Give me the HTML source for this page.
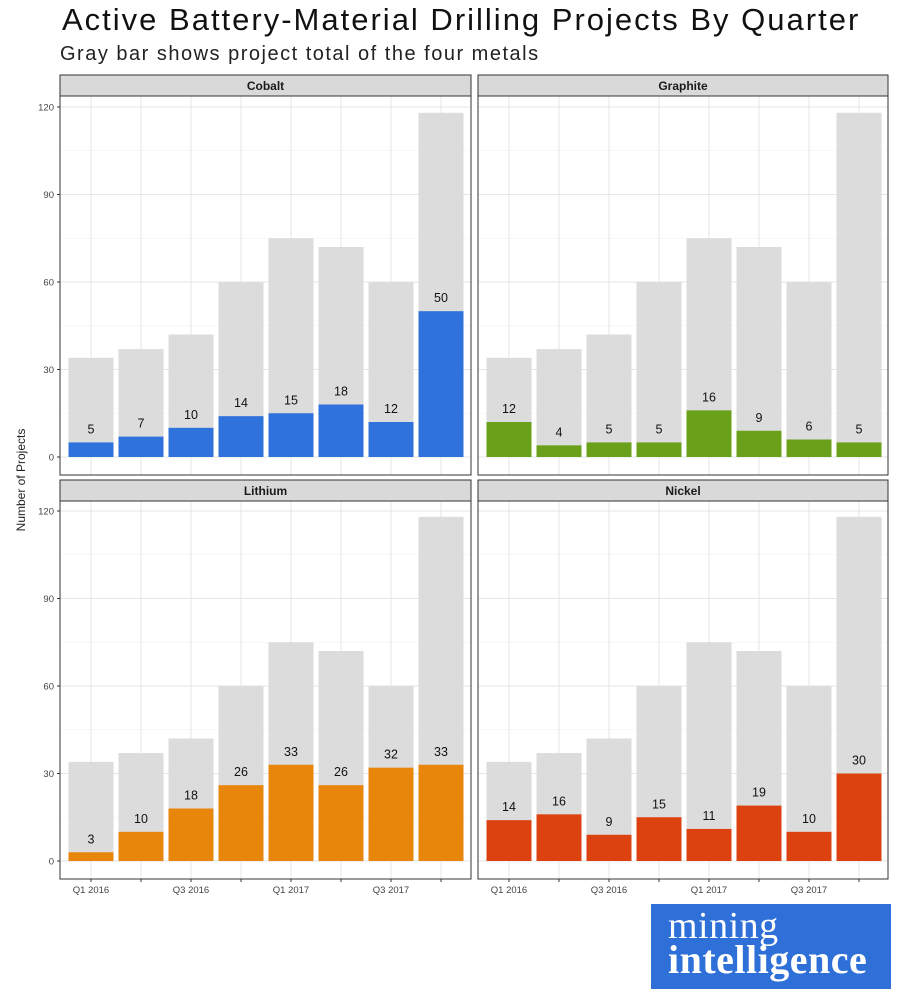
<!DOCTYPE html>
<html><head><meta charset="utf-8">
<style>
body{margin:0;background:#fff;width:900px;height:1000px;overflow:hidden;font-family:"Liberation Sans",sans-serif;}
#title{position:absolute;left:62px;top:2px;font-size:31px;color:#111;letter-spacing:2px;}
#subtitle{position:absolute;left:60px;top:43px;font-size:20px;color:#222;letter-spacing:1.5px;}
#logo{position:absolute;left:651px;top:904px;width:240px;height:85px;background:#2e6fd8;color:#fff;font-family:"Liberation Serif",serif;}
</style></head>
<body>
<div id="title">Active Battery-Material Drilling Projects By Quarter</div>
<div id="subtitle">Gray bar shows project total of the four metals</div>
<svg id="chart" width="900" height="1000" style="position:absolute;left:0;top:0"></svg>
<div id="logo">
<div style="position:absolute;left:17px;top:2px;font-size:38px;line-height:40px;letter-spacing:0.5px;">mining</div>
<div style="position:absolute;left:17px;top:35px;font-size:40px;line-height:42px;font-weight:bold;letter-spacing:0.5px;">intelligence</div>
</div>
<script>
const quarters = ["Q1 2016","Q2 2016","Q3 2016","Q4 2016","Q1 2017","Q2 2017","Q3 2017","Q4 2017"];
const totals = [34,37,42,60,75,72,60,118];
const cobalt = [5,7,10,14,15,18,12,50];
const graphite = [12,4,5,5,16,9,6,5];
const lithium = [3,10,18,26,33,26,32,33];
const nickel = [14,16,9,15,11,19,10,30];
const yTicks = [0,30,60,90,120];
const xTickLabels = ["Q1 2016","","Q3 2016","","Q1 2017","","Q3 2017",""];
const panels = [
 {name:"Cobalt", vals:cobalt, color:"#2f72dc", x0:60, x1:471, top:75, zero:457, showY:true, showX:false},
 {name:"Graphite", vals:graphite, color:"#6aa01a", x0:478, x1:888, top:75, zero:457, showY:false, showX:false},
 {name:"Lithium", vals:lithium, color:"#e8860c", x0:60, x1:471, top:480, zero:861, showY:true, showX:true},
 {name:"Nickel", vals:nickel, color:"#dc4210", x0:478, x1:888, top:480, zero:861, showY:false, showX:true}
];
const svg = document.getElementById('chart');
const NS = "http://www.w3.org/2000/svg";
function mk(tag, attrs, parent){const e=document.createElementNS(NS,tag);for(const k in attrs)e.setAttribute(k,attrs[k]);(parent||svg).appendChild(e);return e;}
const pxPerUnit = 350/120;
panels.forEach(p=>{
  const g = mk('g',{});
  
  
  const stripH = 21, plotTop = p.top+stripH, plotBot = p.zero+18;
  const y = v => p.zero - v*pxPerUnit;
  const xc = i => p.x0 + 31 + i*50;
  for(let v=15; v<=120; v+=30) mk('line',{x1:p.x0,x2:p.x1,y1:y(v),y2:y(v),stroke:'#f2f2f2','stroke-width':0.6},g);
  yTicks.forEach(v=>mk('line',{x1:p.x0,x2:p.x1,y1:y(v),y2:y(v),stroke:'#e6e6e6','stroke-width':1},g));
  quarters.forEach((q,i)=>mk('line',{x1:xc(i),x2:xc(i),y1:plotTop,y2:plotBot,stroke:'#e6e6e6','stroke-width':1},g));
  quarters.forEach((q,i)=>{
    const tb = mk('rect',{x:xc(i)-22.5,width:45,y:y(totals[i]),height:totals[i]*pxPerUnit,fill:'#dcdcdc'},g);
    
    
    const b = mk('rect',{x:xc(i)-22.5,width:45,y:y(p.vals[i]),height:p.vals[i]*pxPerUnit,fill:p.color},g);
    
    
    const t = mk('text',{x:xc(i),y:y(p.vals[i])-9,'text-anchor':'middle','font-size':12.5,fill:'#111'},g);
    t.textContent = p.vals[i];
    
    
  });
  mk('rect',{x:p.x0,y:plotTop,width:p.x1-p.x0,height:plotBot-plotTop,fill:'none',stroke:'#333','stroke-width':1},g);
  mk('rect',{x:p.x0,y:p.top,width:p.x1-p.x0,height:stripH,fill:'#d9d9d9',stroke:'#333','stroke-width':1},g);
  const st = mk('text',{x:(p.x0+p.x1)/2,y:p.top+15,'text-anchor':'middle','font-size':12,'font-weight':'bold',fill:'#1a1a1a'},g);
  st.textContent = p.name;
  
  
  if(p.showY){
    yTicks.forEach(v=>{
      mk('line',{x1:p.x0-3,x2:p.x0,y1:y(v),y2:y(v),stroke:'#333'},g);
      const t = mk('text',{x:p.x0-6,y:y(v)+3.5,'text-anchor':'end','font-size':9.5,fill:'#444'},g);
      t.textContent = v;
      
      
    });
  }
  if(p.showX){
    quarters.forEach((q,i)=>{
      mk('line',{x1:xc(i),x2:xc(i),y1:plotBot,y2:plotBot+3,stroke:'#333'},g);
      if(xTickLabels[i]){
        const t = mk('text',{x:xc(i),y:plotBot+14,'text-anchor':'middle','font-size':9.5,fill:'#444'},g);
        t.textContent = xTickLabels[i];
        
        
      }
    });
  }
});
const yt = mk('text',{x:25,y:480,'text-anchor':'middle','font-size':12,fill:'#222',transform:'rotate(-90 25 480)'});
yt.textContent = "Number of Projects";


</script>
</body></html>
